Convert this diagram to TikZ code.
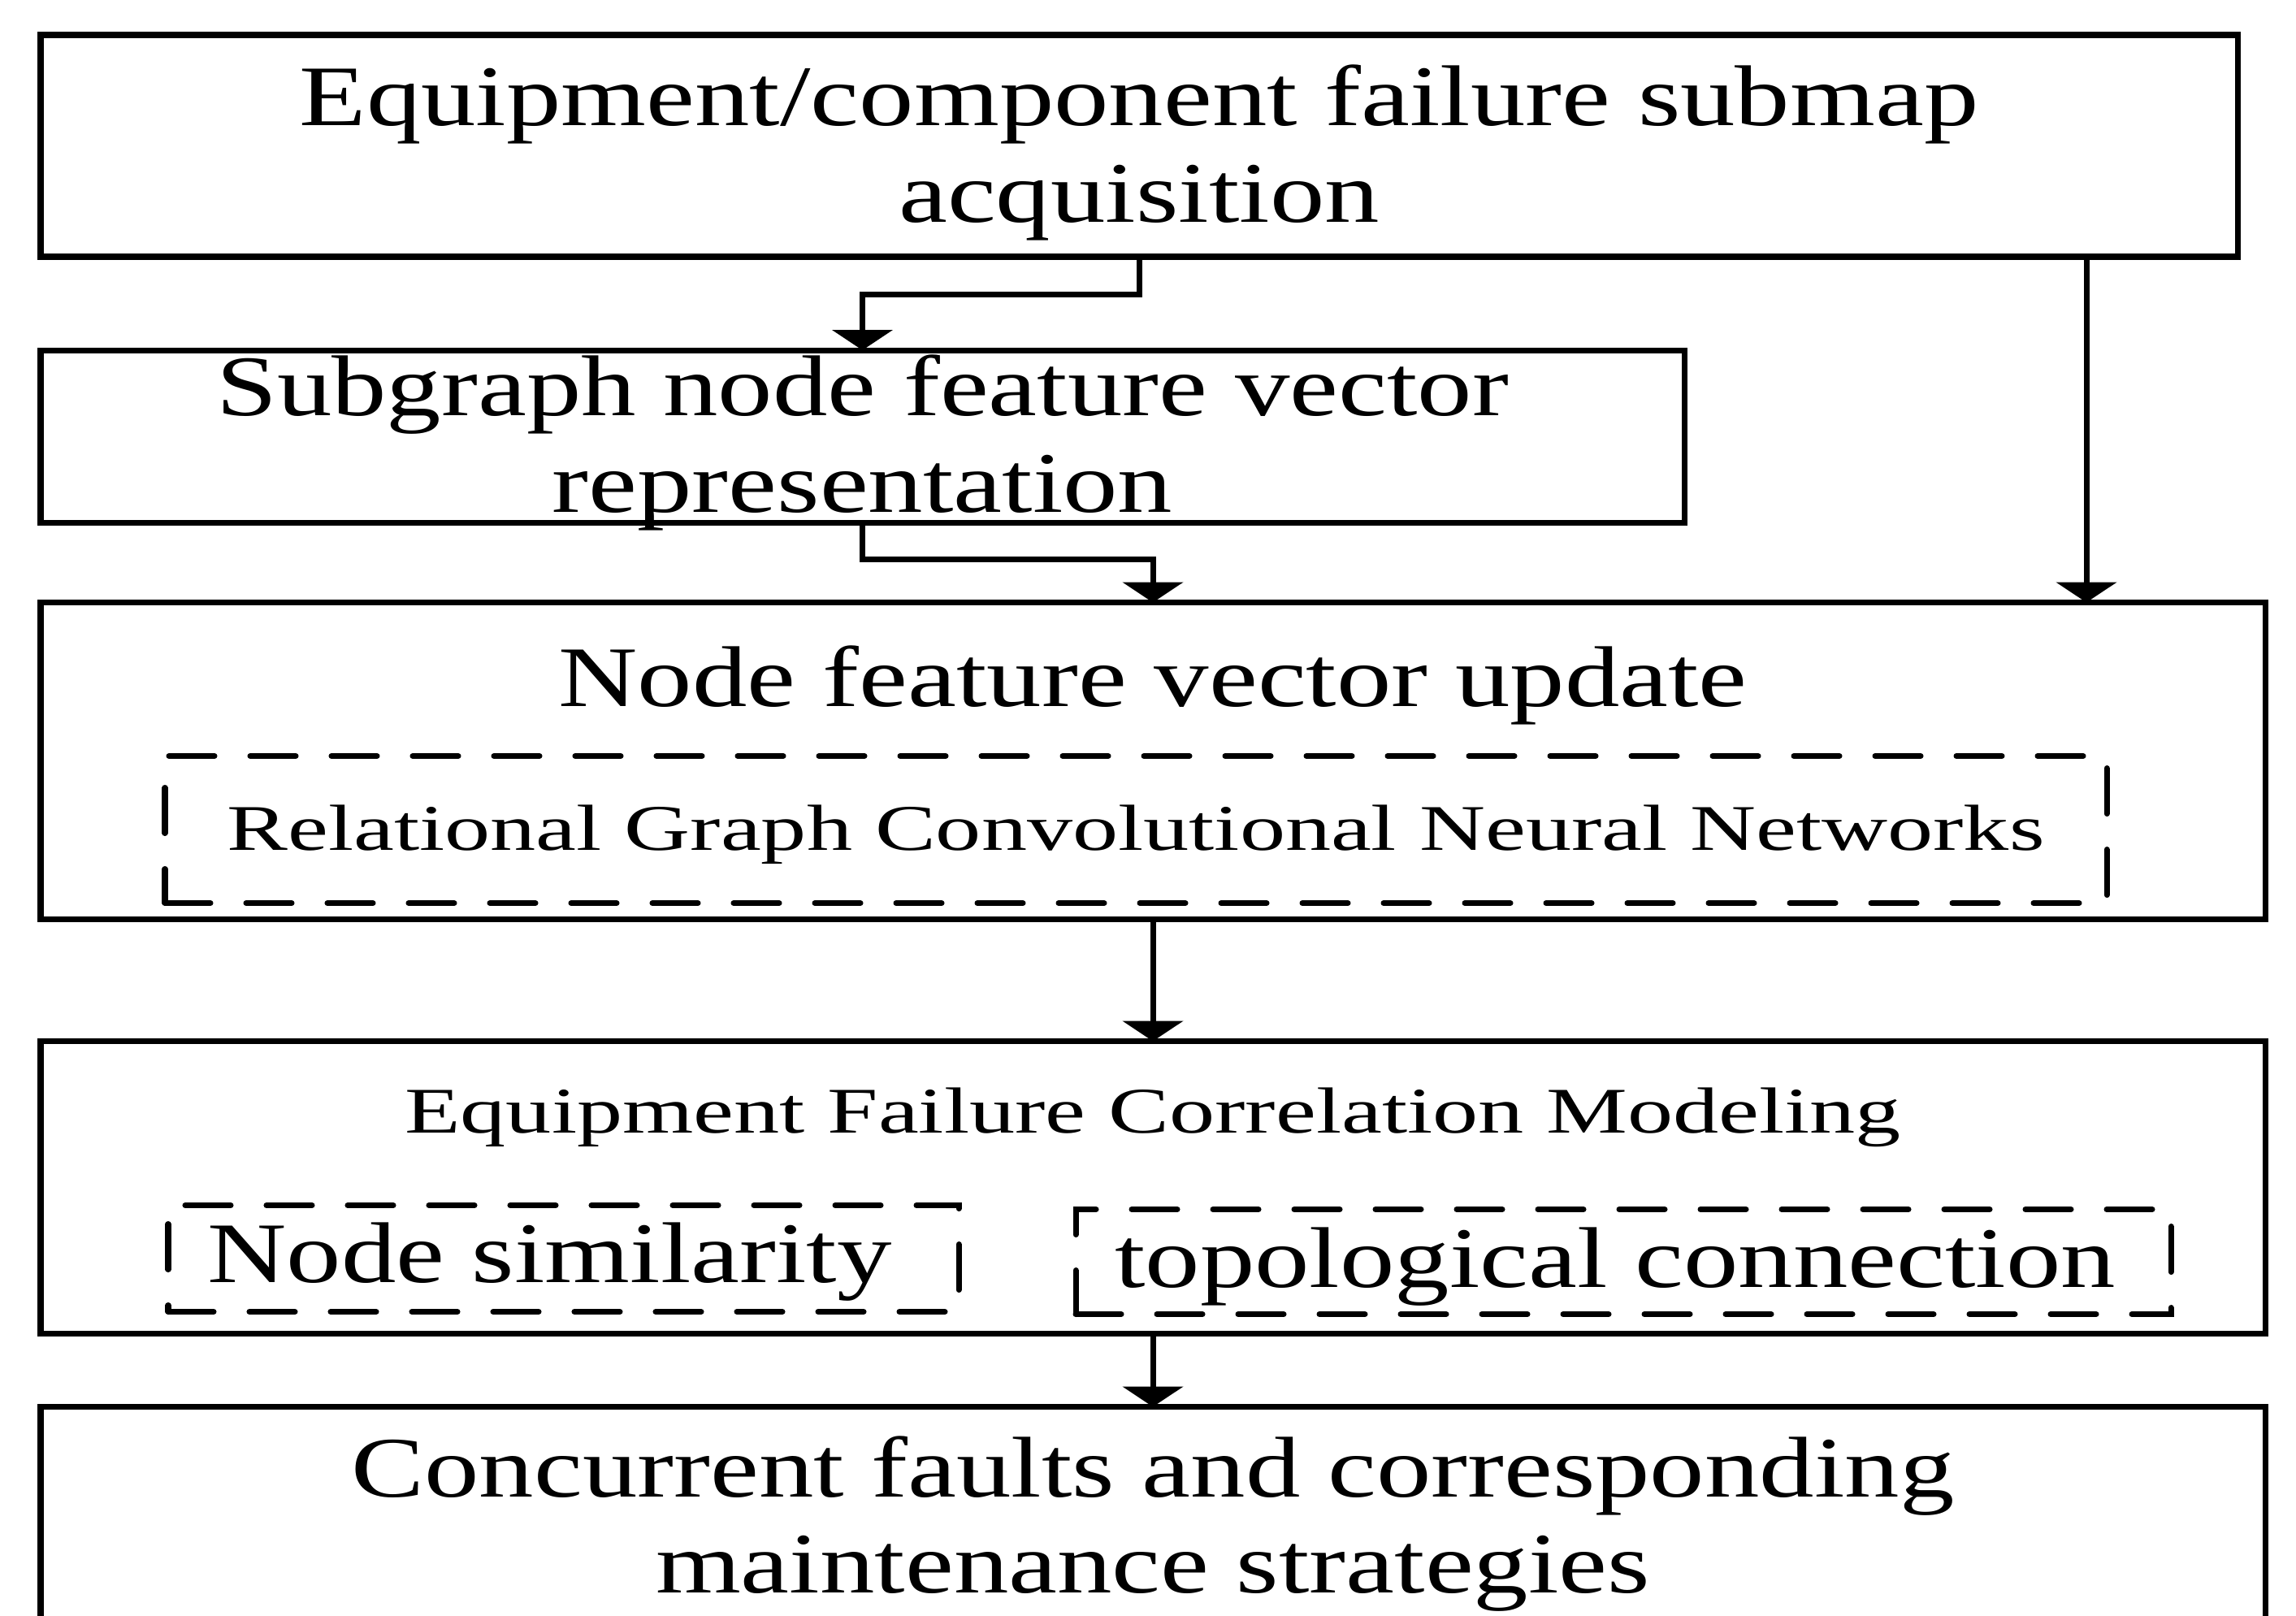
\documentclass[tikz,border=0pt]{standalone}
\usepackage{fontspec}
\setmainfont{Liberation Serif}
\newfontfamily\wideserif[FakeStretch=1.27]{Liberation Serif}
\newfontfamily\wideserifsm[FakeStretch=1.40]{Liberation Serif}
\newcommand{\bigtxt}{\wideserif\fontsize{30.2pt}{33.6pt}\selectfont}
\newcommand{\smalltxt}{\wideserifsm\fontsize{22.8pt}{26pt}\selectfont}
\usetikzlibrary{positioning,calc,arrows.meta}

\begin{document}
\begin{tikzpicture}[
    stepbox/.style={draw, line width=2pt, inner sep=0pt, outer sep=0pt, align=center, font=\bigtxt},
    dashbox/.style={stepbox, dash pattern=on 0.56cm off 0.44cm, line cap=round},
    flow/.style={line width=2pt, -{Triangle[width=0.74cm,length=0.25cm]}}
  ]
  \useasboundingbox (0,0) rectangle (28.26,-19.88);

  % main boxes, top to bottom
  \node[stepbox, minimum width=27.04cm, minimum height=2.73cm, text height=2.2cm, text depth=0.33cm] (acq) at (14.02,-1.795)
    {Equipment/component failure submap\\acquisition};
  \node[stepbox, minimum width=20.23cm, minimum height=2.12cm, text height=1.95cm, text depth=0.09cm,
        below right=1.15cm and 0cm of acq.south west] (sub)
    {Subgraph node feature vector\\representation};
  \node[stepbox, minimum width=27.38cm, minimum height=3.9cm, text height=0.75cm, text depth=2.085cm,
        below right=0.985cm and 0cm of sub.south west] (upd)
    {Node feature vector update};
  \node[stepbox, minimum width=27.38cm, minimum height=3.6cm, text height=0.6cm, text depth=1.95cm, font=\smalltxt,
        below=1.5cm of upd] (corr)
    {Equipment Failure Correlation Modeling};
  \node[stepbox, minimum width=27.38cm, minimum height=3.3cm, text height=2.0cm, text depth=0.72cm,
        below=0.9cm of corr] (conc)
    {Concurrent faults and corresponding\\maintenance strategies};

  % dashed inner boxes
  \node[dashbox, minimum width=23.9cm, minimum height=1.81cm, text height=0.6cm, text depth=0.09cm, font=\smalltxt,
        above right=0.2cm and 1.53cm of upd.south west] (rgcn)
    {Relational Graph Convolutional Neural Networks};
  \node[dashbox, minimum width=9.73cm, minimum height=1.31cm, text height=0.75cm, text depth=0.16cm,
        above right=0.27cm and 1.57cm of corr.south west] (sim)
    {Node similarity\hspace{0.34cm}};
  \node[dashbox, minimum width=13.48cm, minimum height=1.29cm, text height=0.75cm, text depth=0.12cm,
        above right=0.24cm and 12.74cm of corr.south west] (topo)
    {topological connection\hspace{0.2cm}};

  % arrows
  \coordinate (side) at (25.68,0);
  \draw[flow] (acq.south) -- ++(0,-0.46) -| (sub.north);
  \draw[flow] (sub.south) -- ++(0,-0.45) -| (upd.north);
  \draw[flow] (acq.south -| side) -- (upd.north -| side);
  \draw[flow] (upd) -- (corr);
  \draw[flow] (corr) -- (conc);
\end{tikzpicture}
\end{document}
